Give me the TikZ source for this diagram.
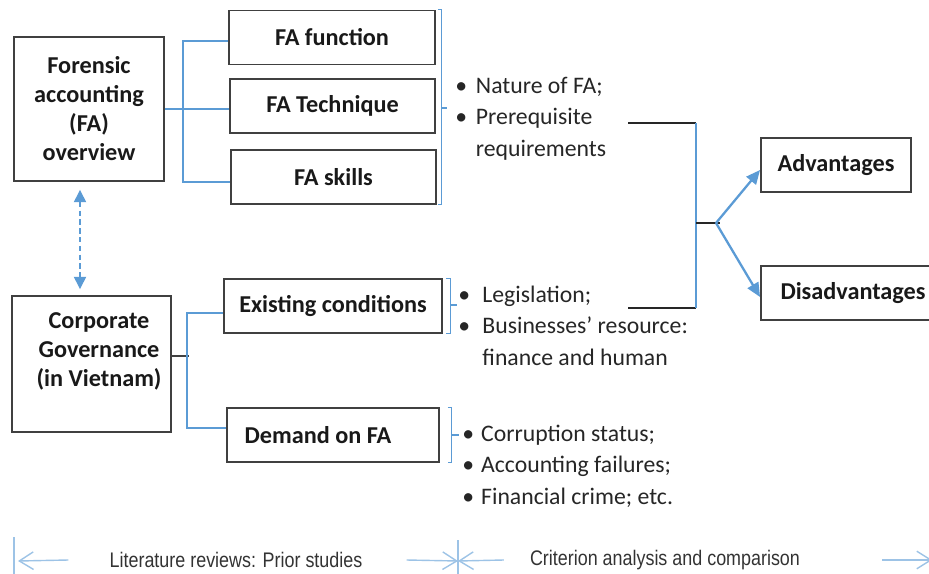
\documentclass[tikz,border=0pt]{standalone}
\usepackage{fontspec}
\setmainfont{Carlito}
\newfontfamily\narrowfont{Liberation Sans}[FakeStretch=0.85]
\usetikzlibrary{arrows.meta,positioning,calc}
\definecolor{fablue}{RGB}{91,155,213}
\definecolor{falight}{RGB}{157,195,230}
\definecolor{fagray}{RGB}{64,64,64}
\tikzset{
  fabox/.style={draw=fagray, line width=1.1pt, fill=white, align=center,
                font=\fontsize{13.8}{16.5}\selectfont\bfseries, text=black!90,
                minimum width=#1, minimum height=1.08cm, inner sep=2pt},
  fabox/.default=4.1cm,
  fatext/.style={align=center, inner sep=0pt,
                 font=\fontsize{13.8}{16.5}\selectfont\bfseries, text=black!90},
  bulletlist/.style={anchor=west, inner sep=0pt, align=left,
                     font=\fontsize{13.5}{18}\selectfont, text=black!85},
  link/.style={draw=fablue, line width=1.3pt},
  stub/.style={draw=black!85, line width=1.3pt},
  brace/.style={draw=fablue, line width=0.6pt},
  phase/.style={draw=falight, line width=0.8pt},
  phasetext/.style={font=\narrowfont\fontsize{12}{14}\selectfont, text=black!80},
}

\begin{document}
\begin{tikzpicture}[x=0.02cm, y=-0.02cm]
\useasboundingbox (0,0) rectangle (929,574);

% FA overview and its three parts
\node[fabox=3cm, minimum height=2.88cm] (fao) at (89,109) {Forensic\\accounting\\(FA)\\overview};
\node[fabox=4.12cm] (fafun) at (332,37.5) {FA function};
\node[fabox] (fatech) at (332.5,106) {FA Technique};
\node[fabox] (faskill) at (333.5,177) {FA skills};
\draw[link] (fao.east) -- (fao.east -| fatech.west);
\draw[link] ([yshift=-0.07cm]fafun.west) -- ++(-45,0) |- ([yshift=-0.1cm]faskill.west);

% Corporate governance and its two parts
\node[fabox=3.18cm, minimum height=2.72cm] (cg) at (91.5,364) {};
\node[fatext] (cgtext) at (99,351) {Corporate\\Governance\\(in Vietnam)};
\node[fabox=4.36cm] (exist) at (333,306) {Existing conditions};
\node[fabox=4.24cm] (demand) at (333,435) {Demand on FA\hspace{0.6cm}};
\draw[stub, draw=fagray] ([yshift=0.16cm]cg.east) -- ++(17,0);
\draw[link] ([yshift=-0.14cm]exist.west) -- ++(-36,0) |- ([yshift=0.14cm]demand.west);

% two-way link between the two topics
\draw[link, line width=0.8pt, dash pattern=on 3pt off 2pt,
      {Triangle[length=7pt,width=7pt]}-{Triangle[length=7pt,width=7pt]},
      shorten <=0.16cm, shorten >=0.12cm]
      ([xshift=-0.18cm]fao.south) -- ([xshift=-0.18cm]fao.south |- cg.north);

% brackets and bullet notes
\draw[brace] ($(fafun.north east)+(2,0)$) -- ++(4,0) |- ($(faskill.south east)+(1,0)$);
\draw[brace] ($(fatech.east)+(6,2)$) -- ++(5,0);
\node[bulletlist] (fanotes) at (455,118.5) {\begin{tabular}{@{}c@{\hspace{5pt}}l@{}}
  \textbullet & Nature of FA;\\ \textbullet & Prerequisite\\ & requirements\end{tabular}};

\draw[brace] ($(exist.north east)+(3,0)$) -- ++(5,0) |- ($(exist.south east)+(3,0)$);
\draw[brace] ($(exist.east)+(8,-1)$) -- ++(6,0);
\node[bulletlist] (existnotes) at (458,327.5) {\begin{tabular}{@{}c@{\hspace{7pt}}l@{}}
  \textbullet & Legislation;\\ \textbullet & Businesses’ resource:\\ & finance and human\end{tabular}};

\draw[brace] ($(demand.north east)+(8,0)$) -- ++(4,0) |- ($(demand.south east)+(8,0)$);
\draw[brace] ($(demand.east)+(12,0)$) -- ++(7,0);
\node[bulletlist] (demandnotes) at (462,466.5) {\begin{tabular}{@{}c@{\hspace{4pt}}l@{}}
  \textbullet & Corruption status;\\ \textbullet & Accounting failures;\\ \textbullet & Financial crime; etc.\end{tabular}};

% criterion comparison
\coordinate (prereqend) at (628,123);
\coordinate (legisend) at (628,308);
\coordinate (spinetop) at (696,123);
\coordinate (spinebot) at (696,308);
\coordinate (spinemid) at (696,223);
\coordinate (fork) at (716,223);
\node[fabox=3cm] (adv) at (836,165) {Advantages};
\node[fabox=3.48cm] (disadv) at (848,293) {\hspace*{0.2cm}Disadvantages};
\draw[stub] (prereqend) -- (spinetop);
\draw[stub] (legisend) -- (spinebot);
\draw[link] (spinetop) -- (spinebot);
\draw[stub] (spinemid) -- ++(24,0);
\draw[link, -{Triangle[length=8pt,width=7pt]}] (fork) -- ([yshift=-0.1cm]adv.west);
\draw[link, -{Triangle[length=8pt,width=7pt]}] (fork) -- ([yshift=-0.08cm]disadv.west);

% phases along the bottom
\node[phasetext] (litrev) at (236,560) {Literature reviews: Prior studies};
\node[phasetext] (crit) at (665,560) {Criterion analysis and comparison};
\coordinate (tstart) at (14,561);
\coordinate (tmid) at (458,561);
\draw[phase] ($(tstart)+(0,-24)$) -- ($(tstart)+(0,20)$);
\draw[phase] ($(tmid)+(0,-21)$) -- ($(tmid)+(0,20)$);
\draw[phase, -{Straight Barb[length=8pt,width=10pt]}] ($(litrev.west)+(-35,0)$) -- ($(tstart)+(4,0)$);
\draw[phase, -{Straight Barb[length=8pt,width=10pt]}] ($(litrev.east)+(38,0)$) -- (tmid);
\draw[phase, -{Straight Barb[length=8pt,width=10pt]}] ($(crit.west)+(-20,0)$) -- (tmid);
\draw[phase, -{Straight Barb[length=8pt,width=10pt]}] ($(crit.east)+(76,0)$) -- ($(crit.east)+(126,0)$);

\end{tikzpicture}
\end{document}
